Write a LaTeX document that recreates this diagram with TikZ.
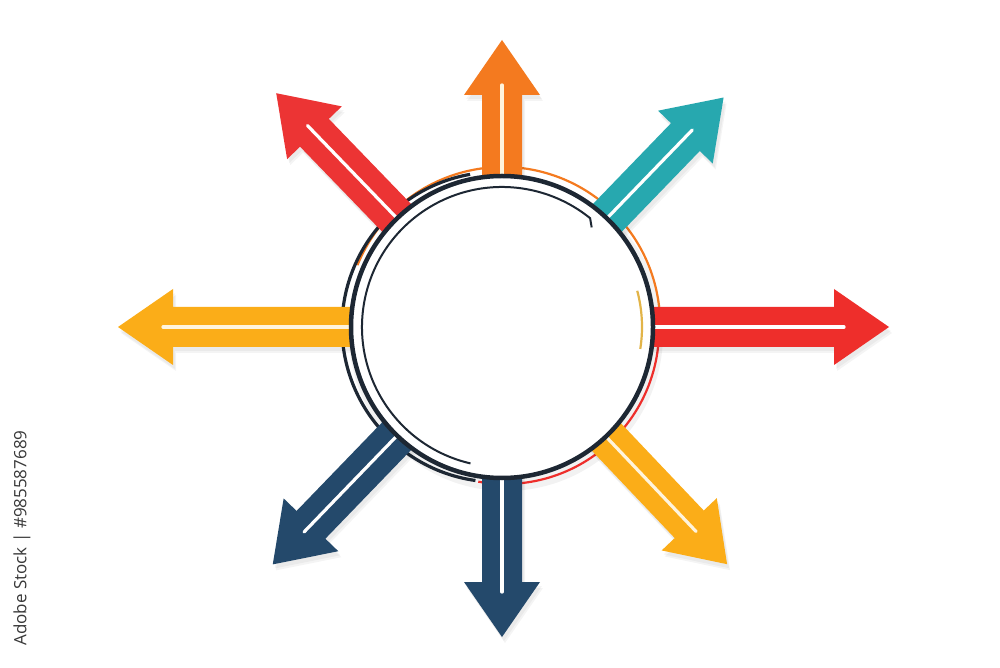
\documentclass[tikz,border=0pt]{standalone}
\usepackage{fontspec}
\newfontfamily\wmfont{Open Sans}
\definecolor{cOrange}{HTML}{F47A1F}
\definecolor{cRed}{HTML}{EC3434}
\definecolor{cRedB}{HTML}{EE2E2B}
\definecolor{cTeal}{HTML}{27A8AF}
\definecolor{cYellow}{HTML}{FBAD18}
\definecolor{cNavy}{HTML}{24496B}
\definecolor{cRing}{HTML}{1D2733}
\definecolor{cGold}{HTML}{E2B448}
\definecolor{cCream}{HTML}{FFF4DC}
\tikzset{
  stripe/.style={line width=3.2, line cap=round},
  ringline/.style={cRing, line width=2},
  wmtext/.style={text=black!78, font=\wmfont\fontsize{17}{18}\selectfont}
}
% arrow outline in local frame: #1 tip distance
\newcommand{\arrowpath}[1]{(110,-20) -- ({#1-55},-20) -- ({#1-55},-38) -- (#1,0) -- ({#1-55},38) -- ({#1-55},20) -- (110,20) -- cycle}
% #1 fill colour, #2 angle, #3 tip distance, #4 stripe colour
\newcommand{\sunarrow}[4]{%
  \begin{scope}[shift={(505,334)}, rotate=#2]
    \fill[black, opacity=0.045] \arrowpath{#3};
  \end{scope}
  \begin{scope}[shift={(504,336)}, rotate=#2]
    \fill[black, opacity=0.04] \arrowpath{#3};
  \end{scope}
  \begin{scope}[shift={(502,340)}, rotate=#2]
    \fill[#1] \arrowpath{#3};
    \draw[#4, stripe] (120,0) -- ({#3-45},0);
  \end{scope}}
\begin{document}
\begin{tikzpicture}[x=1pt,y=1pt]
\useasboundingbox[fill=white] (0,0) rectangle (1000,667);
% soft shadow of the disc
\fill[black, opacity=0.05] (506,333) circle (157);
% offset outer rings (beneath the arrows)
\draw[cOrange, line width=2.2, shift={(503,343)}] (158:157) arc[start angle=158, end angle=-8, radius=157];
\draw[cRedB, line width=2.2, shift={(505,337)}] (5:154) arc[start angle=5, end angle=-100, radius=154];
\draw[cRing, line width=3.2, shift={(497,340)}] (100:155) arc[start angle=100, end angle=262, radius=155];
% arrows
\sunarrow{cOrange}{90}{287}{cCream}
\sunarrow{cTeal}{46}{319}{white}
\sunarrow{cRedB}{0}{387}{white}
\sunarrow{cYellow}{-46.5}{327}{cCream}
\sunarrow{cNavy}{270}{310}{white}
\sunarrow{cNavy}{226}{330}{white}
\sunarrow{cYellow}{180}{384}{cCream}
\sunarrow{cRed}{134}{325}{white}
% main disc
\fill[white] (502,340) circle (150);
\draw[cRing, line width=4.5] (502,340) circle (151);
% inner arcs
\draw[ringline, shift={(502,340)}] (257:140) arc[start angle=257, end angle=51, radius=140] -- (48:134);
\draw[cGold, line width=2.2, shift={(502,340)}] (15:140) arc[start angle=15, end angle=-9, radius=140];
% watermark caption
\node[wmtext, rotate=90] (wm) at (22,129) {Adobe Stock | \#985587689};
\end{tikzpicture}
\end{document}
